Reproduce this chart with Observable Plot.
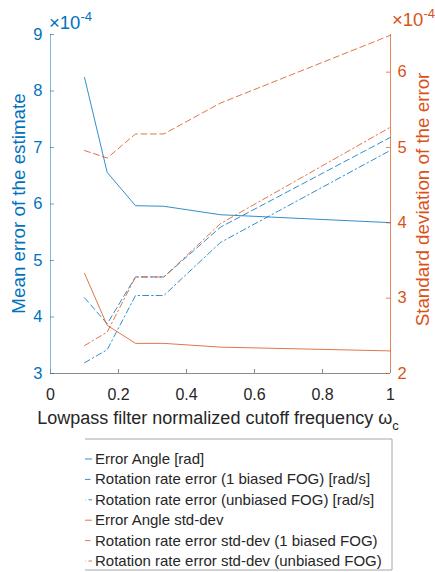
<!DOCTYPE html>
<html>
<head>
<meta charset="utf-8">
<script src="https://cdn.jsdelivr.net/npm/d3@7"></script>
<script src="https://cdn.jsdelivr.net/npm/@observablehq/plot@0.6"></script>
<style>
  body { margin: 0; background: #fff; }
  #wrap { position: relative; width: 435px; height: 572px; overflow: hidden;
          font-family: "Liberation Sans", Arial, Helvetica, sans-serif; }
  #legend { position: absolute; left: 85px; top: 437px; }
</style>
</head>
<body>
<div id="wrap"></div>
<script>
// Normalized cutoff frequencies of the lowpass filter
const cutoff = [0.1, 0.1667, 0.25, 0.3333, 0.5, 1];

// Mean errors (×1e-4), left axis
const errorAngle   = [8.24, 6.56, 5.97, 5.96, 5.81, 5.67];
const rateBiased   = [4.34, 3.88, 4.71, 4.71, 5.59, 7.18];
const rateUnbiased = [3.19, 3.42, 4.38, 4.38, 5.32, 6.95];

// Standard deviations (×1e-4), right axis
const errorAngleStd   = [3.33, 2.64, 2.40, 2.40, 2.35, 2.30];
const rateBiasedStd   = [4.96, 4.86, 5.18, 5.18, 5.59, 6.49];
const rateUnbiasedStd = [2.37, 2.55, 3.28, 3.28, 3.99, 5.27];

const seriesNames = [
  "Error Angle [rad]",
  "Rotation rate error (1 biased FOG) [rad/s]",
  "Rotation rate error (unbiased FOG) [rad/s]",
  "Error Angle std-dev",
  "Rotation rate error std-dev (1 biased FOG)",
  "Rotation rate error std-dev (unbiased FOG)"
];

// Axis ticks
const xTicks = [0, 0.2, 0.4, 0.6, 0.8, 1];
const xTickLabels = ["0", "0.2", "0.4", "0.6", "0.8", "1"];
const leftTicks = [3, 4, 5, 6, 7, 8, 9];
const rightTicks = [2, 3, 4, 5, 6];
const leftDomain = [3, 9];
const rightDomain = [2, 6.5];

const blue = "#0072BD";
const orange = "#D95319";
const dashed = "6,3.5";
const dashDot = "6,3,1.5,3";

const series = [
  { name: seriesNames[0], values: errorAngle,      axis: "left",  color: blue,   dash: null },
  { name: seriesNames[1], values: rateBiased,      axis: "left",  color: blue,   dash: dashed },
  { name: seriesNames[2], values: rateUnbiased,    axis: "left",  color: blue,   dash: dashDot },
  { name: seriesNames[3], values: errorAngleStd,   axis: "right", color: orange, dash: null },
  { name: seriesNames[4], values: rateBiasedStd,   axis: "right", color: orange, dash: dashed },
  { name: seriesNames[5], values: rateUnbiasedStd, axis: "right", color: orange, dash: dashDot }
];

// The right axis is mapped linearly onto the left-axis scale
const k = (leftDomain[1] - leftDomain[0]) / (rightDomain[1] - rightDomain[0]);
const toLeft = v => leftDomain[0] + (v - rightDomain[0]) * k;
const fromLeft = v => rightDomain[0] + (v - leftDomain[0]) / k;

const rows = [];
series.forEach((s, si) => cutoff.forEach((c, i) => rows.push({
  x: c,
  y: s.axis === "left" ? s.values[i] : toLeft(s.values[i]),
  s: si
})));

const W = 435, H = 435, mL = 50, mR = 45, mT = 34, mB = 62;
const plotW = W - mL - mR, plotH = H - mT - mB;
const font = "'Liberation Sans', Arial, Helvetica, sans-serif";
const gray = "#8c8c8c";

const chart = Plot.plot({
  width: W, height: H,
  marginLeft: mL, marginRight: mR, marginTop: mT, marginBottom: mB,
  x: { domain: [0, 1] },
  y: { domain: leftDomain },
  style: { fontFamily: font, fontSize: "16px", background: "white", overflow: "visible" },
  marks: [
    Plot.ruleY([leftDomain[0]], { stroke: gray }),
    ...series.map((s, si) => Plot.line(rows.filter(r => r.s === si), {
      x: "x", y: "y", stroke: s.color, strokeWidth: 1, strokeOpacity: 0.8,
      strokeDasharray: s.dash
    })),
    Plot.ruleX([0], { stroke: blue, strokeOpacity: 0.5 }),
    Plot.ruleX([1], { stroke: orange, strokeOpacity: 0.7 }),
    Plot.tickX(xTicks, { x: d => d, insetTop: plotH - 4, stroke: gray }),
    Plot.tickY(leftTicks, { y: d => d, insetRight: plotW - 4, stroke: blue, strokeOpacity: 0.6 }),
    Plot.tickY(rightTicks.map(toLeft), { y: d => d, insetLeft: plotW - 4, stroke: orange, strokeOpacity: 0.7 }),
    Plot.axisX(xTicks, {
      tickSize: 0, tickPadding: 15, fill: "#262626", label: null,
      tickFormat: d => xTickLabels[xTicks.indexOf(d)]
    }),
    Plot.axisY(leftTicks, {
      anchor: "left", tickSize: 0, tickPadding: 8, fill: blue, label: null, fontSize: 16.5,
      tickFormat: d => String(d)
    }),
    Plot.axisY(rightTicks.map(toLeft), {
      anchor: "right", tickSize: 0, tickPadding: 7, fill: orange, label: null, fontSize: 16.5,
      tickFormat: d => String(Math.round(fromLeft(d)))
    })
  ]
});

document.getElementById("wrap").appendChild(chart);

// Titles and exponent labels
const svg = d3.select(chart);
const xs = chart.scale("x"), ys = chart.scale("y");
const x0 = xs.apply(0), x1 = xs.apply(1);
const yTop = ys.apply(leftDomain[1]), yBot = ys.apply(leftDomain[0]);
const g = svg.append("g").attr("font-family", font);

g.append("text")
  .attr("transform", `translate(${x0 - 32},${(yTop + yBot) / 2}) rotate(-90)`)
  .attr("text-anchor", "middle").attr("dominant-baseline", "central")
  .attr("font-size", 18.8).attr("fill", blue)
  .text("Mean error of the estimate");

g.append("text")
  .attr("transform", `translate(${x1 + 32},${(yTop + yBot) / 2 - 4}) rotate(-90)`)
  .attr("text-anchor", "middle").attr("dominant-baseline", "central")
  .attr("font-size", 18.8).attr("fill", orange)
  .text("Standard deviation of the error");

const xl = g.append("text")
  .attr("x", (x0 + x1) / 2 - 2).attr("y", yBot + 51)
  .attr("text-anchor", "middle").attr("font-size", 18).attr("fill", "#262626");
xl.append("tspan").text("Lowpass filter normalized cutoff frequency \u03C9");
xl.append("tspan").attr("dy", 6).attr("font-size", 13).text("c");

function exponent(x, y, color) {
  const t = g.append("text").attr("x", x).attr("y", y)
    .attr("text-anchor", "start").attr("font-size", 18.5).attr("fill", color);
  t.append("tspan").text("\u00D710");
  t.append("tspan").attr("dy", -8).attr("font-size", 13).text("-4");
}
exponent(x0 - 1, yTop - 5, blue);
exponent(x1 + 2, yTop - 8, orange);

// Legend box below the plot
const lg = d3.select("#wrap").append("svg").attr("id", "legend")
  .attr("width", 320).attr("height", 135)
  .attr("font-family", font);
const boxR = 307, boxT = 2, boxB = 133;
lg.append("path")
  .attr("d", `M0,${boxT}H${boxR}V${boxB}H0`)
  .attr("fill", "none").attr("stroke", "#a6a6a6").attr("stroke-width", 1);
series.forEach((s, i) => {
  const base = 27 + i * 20.4;
  lg.append("line").attr("x1", -10).attr("x2", 7)
    .attr("y1", base - 5).attr("y2", base - 5)
    .attr("stroke", s.color).attr("stroke-opacity", 0.8)
    .attr("stroke-dasharray", s.dash);
  lg.append("text").attr("x", 10).attr("y", base)
    .attr("font-size", 15).attr("fill", "#262626").text(s.name);
});
</script>
</body>
</html>
